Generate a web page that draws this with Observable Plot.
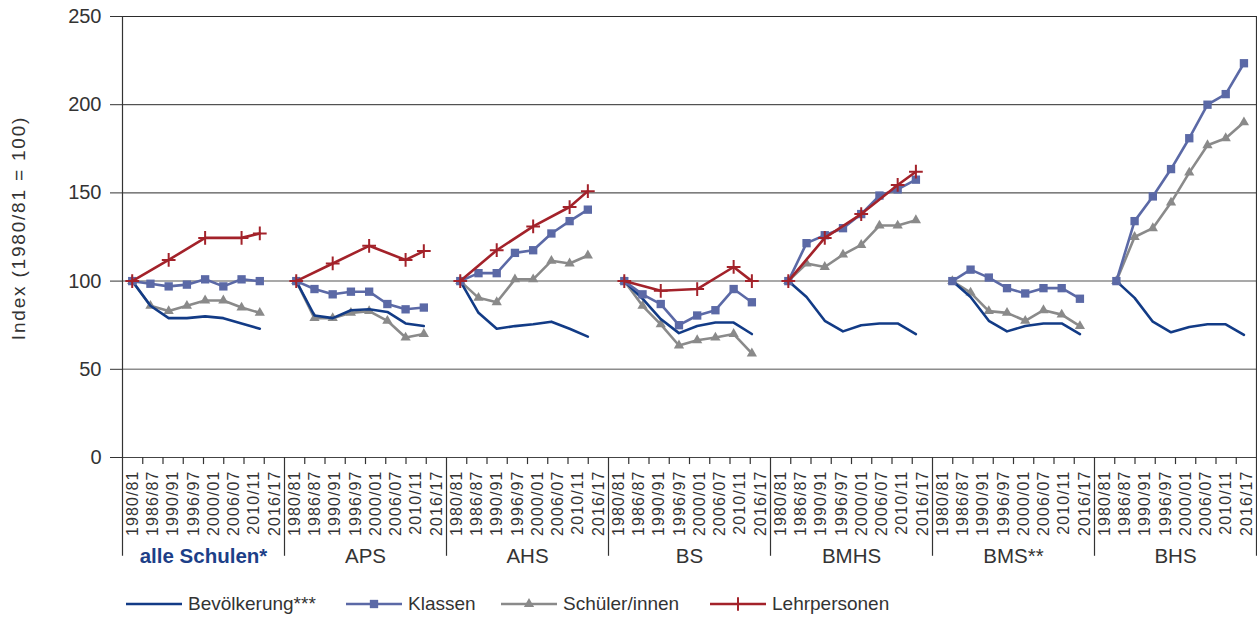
<!DOCTYPE html>
<html><head><meta charset="utf-8">
<script src="https://cdn.jsdelivr.net/npm/d3@7"></script>
<script src="https://cdn.jsdelivr.net/npm/@observablehq/plot@0.6"></script>
<style>
body{margin:0;background:#fff;font-family:"Liberation Sans",Arial,sans-serif;}
#wrap{position:relative;width:1257px;height:617px;overflow:hidden;}
#legend{position:relative;height:32px;width:1257px;}
.lg-item{position:absolute;top:3px;height:32px;display:flex;align-items:center;}
.lg-text{font-size:19px;color:#333;margin-left:6px;white-space:nowrap;}
.xcat text{letter-spacing:1.1px;}
.ytitle text{letter-spacing:1.8px;}
</style></head>
<body><div id="wrap"><div id="chart"></div><div id="legend"></div></div>
<script>
const groups = ["alle Schulen*", "APS", "AHS", "BS", "BMHS", "BMS**", "BHS"];
const years = ["1980/81","1986/87","1990/91","1996/97","2000/01","2006/07","2010/11","2016/17"];
const yTicks = [0, 50, 100, 150, 200, 250];
const yTitle = "Index (1980/81 = 100)";

const bevoelkerung = [
  [100, 86, 79, 79, 80, 79, 76, 73],
  [100, 80.5, 79, 83.5, 84, 82.5, 76, 74.5],
  [100, 82, 73, 74.5, 75.5, 77, 73, 68.5],
  [100, 90, 78.5, 70.5, 74.5, 76.5, 76.5, 70],
  [100, 91, 77.5, 71.5, 75, 76, 76, 70],
  [100, 91, 77.5, 71.5, 74.5, 76, 76, 70],
  [100, 90.5, 77, 71, 74, 75.5, 75.5, 69.5]
];
const klassen = [
  [100, 98.5, 97, 98, 101, 97, 101, 100],
  [100, 95.5, 92.5, 94, 94, 87, 84, 85],
  [100, 104.5, 104.5, 116, 117.5, 127, 134, 140.5],
  [100, 92.5, 87, 75, 80.5, 83.5, 95.5, 88],
  [100, 121.5, 126, 130, 138, 148.5, 152, 157.5],
  [100, 106.5, 102, 96, 93, 96, 96, 90],
  [100, 134, 148, 163.5, 181, 200, 206, 223.5]
];
const schueler = [
  [100, 86, 83, 86, 89, 89, 85, 82],
  [100, 79, 79, 82, 83, 77.5, 68, 70],
  [100, 90.5, 88, 101, 101, 111.5, 110, 114.5],
  [100, 86, 75.5, 63.5, 66.5, 68, 70, 59],
  [100, 110, 108, 115, 120.5, 131.5, 131.5, 134.5],
  [100, 93.5, 83, 82, 77.5, 83.5, 81, 74.5],
  [100, 125, 130, 144.5, 161.5, 177, 181, 190]
];
const lehrpersonen = [
  [100, null, 112, null, 124.5, null, 124.5, 127],
  [100, null, 110, null, 120, null, 112, 117],
  [100, null, 117.5, null, 131, null, 142, 151],
  [100, null, 94.5, null, 95.5, null, 108, 100],
  [100, null, 124.5, null, 138, null, 154.5, 162],
  [null, null, null, null, null, null, null, null],
  [null, null, null, null, null, null, null, null]
];

const seriesNames = ["Bevölkerung***", "Klassen", "Schüler/innen", "Lehrpersonen"];
const seriesValues = [bevoelkerung, klassen, schueler, lehrpersonen];
const seriesColors = ["#123b86", "#5b69a6", "#8a8a8a", "#a3222a"];
const seriesSymbols = [null, "square", "triangle", "plus"];
const drawOrder = [2, 0, 1, 3];

// category axis: 8 categories per group; the lines sit on a 9-slot-per-group secondary axis
const nCat = groups.length * years.length;
const slotScale = 0.9, slotOffset = 0.48;

const rows = [];
seriesValues.forEach((vals, s) => {
  vals.forEach((arr, g) => {
    arr.forEach((v, i) => {
      if (v != null) rows.push({s, g, i, pos: slotOffset + slotScale * (9 * g + i), value: v});
    });
  });
});

const cats = [];
groups.forEach((gname, g) => years.forEach((y, j) => cats.push({k: g * years.length + j, label: y})));
const groupRows = groups.map((name, g) => ({g, name, center: g * years.length + years.length / 2}));
const groupBounds = d3.range(groups.length + 1).map(g => g * years.length);
const innerTicks = d3.range(nCat).filter(k => k % years.length !== 0);

const marks = [
  Plot.ruleY([50, 100], {stroke: "#8c8c8c", strokeWidth: 1.5}),
  Plot.ruleY([150, 200, 250], {stroke: "#2b2b2b", strokeWidth: 1}),
  Plot.ruleY([0], {stroke: "#444", strokeWidth: 1.2}),
  Plot.ruleX(groupBounds, {x: d => d, y1: -56, y2: d => (d === 0 || d === nCat) ? 250 : 0, stroke: "#333", strokeWidth: 1.2}),
  Plot.ruleX(innerTicks, {x: d => d, y1: -4, y2: 0, stroke: "#333", strokeWidth: 1.2}),
  Plot.text(cats, {x: d => d.k + 0.5, frameAnchor: "bottom", dy: 13, text: "label", rotate: -90, textAnchor: "end", lineAnchor: "middle", fontSize: 16, fill: "#333", className: "xcat"}),
  Plot.text(groupRows.filter(d => d.g === 0), {x: "center", frameAnchor: "bottom", dy: 99, text: "name", lineAnchor: "middle", fontSize: 20.5, fontWeight: "bold", fill: "#1d3f88"}),
  Plot.text(groupRows.filter(d => d.g !== 0), {x: "center", frameAnchor: "bottom", dy: 99, text: "name", lineAnchor: "middle", fontSize: 20.5, fill: "#333"}),
  Plot.text([yTitle], {frameAnchor: "left", dx: -104, dy: -9, text: d => d, rotate: -90, textAnchor: "middle", lineAnchor: "middle", fontSize: 19, fill: "#333", className: "ytitle"})
];

drawOrder.forEach(s => {
  const data = rows.filter(d => d.s === s);
  marks.push(Plot.line(data, {x: "pos", y: "value", z: "g", stroke: seriesColors[s], strokeWidth: 2.6}));
  const sym = seriesSymbols[s];
  if (sym === "square") marks.push(Plot.dot(data, {x: "pos", y: "value", symbol: "square", r: 4.7, fill: seriesColors[s]}));
  else if (sym === "triangle") marks.push(Plot.dot(data, {x: "pos", y: "value", symbol: "triangle", r: 3.8, fill: seriesColors[s]}));
  else if (sym === "plus") marks.push(Plot.dot(data, {x: "pos", y: "value", symbol: "plus", r: 4.5, fill: "none", stroke: seriesColors[s], strokeWidth: 2}));
});

const chart = Plot.plot({
  width: 1257, height: 585,
  marginLeft: 122, marginRight: 1, marginTop: 16, marginBottom: 128,
  x: {domain: [0, nCat], axis: null},
  y: {domain: [0, 250], ticks: yTicks, tickSize: 12, tickPadding: 9, label: null},
  style: {fontFamily: "'Liberation Sans', Arial, sans-serif", fontSize: "20px", color: "#333", background: "white", overflow: "visible"},
  marks
});
document.getElementById("chart").appendChild(chart);

// legend
const legendX = [126, 346, 501, 710];
const lg = document.getElementById("legend");
seriesNames.forEach((name, s) => {
  const item = document.createElement("div");
  item.className = "lg-item";
  item.style.left = legendX[s] + "px";
  const svg = d3.create("svg").attr("width", 56).attr("height", 20);
  svg.append("line").attr("x1", 0).attr("x2", 56).attr("y1", 10).attr("y2", 10).attr("stroke", seriesColors[s]).attr("stroke-width", 2.6);
  const sym = seriesSymbols[s];
  if (sym === "square") svg.append("path").attr("transform", "translate(28,10)").attr("d", d3.symbol(d3.symbolSquare, Math.PI * 4.7 * 4.7)()).attr("fill", seriesColors[s]);
  if (sym === "triangle") svg.append("path").attr("transform", "translate(28,10)").attr("d", d3.symbol(d3.symbolTriangle, Math.PI * 3.8 * 3.8)()).attr("fill", seriesColors[s]);
  if (sym === "plus") svg.append("path").attr("transform", "translate(28,10)").attr("d", d3.symbol(d3.symbolPlus, Math.PI * 4.5 * 4.5)()).attr("fill", "none").attr("stroke", seriesColors[s]).attr("stroke-width", 2);
  item.appendChild(svg.node());
  const t = document.createElement("span");
  t.className = "lg-text";
  t.textContent = name;
  item.appendChild(t);
  lg.appendChild(item);
});
</script>
</body></html>
